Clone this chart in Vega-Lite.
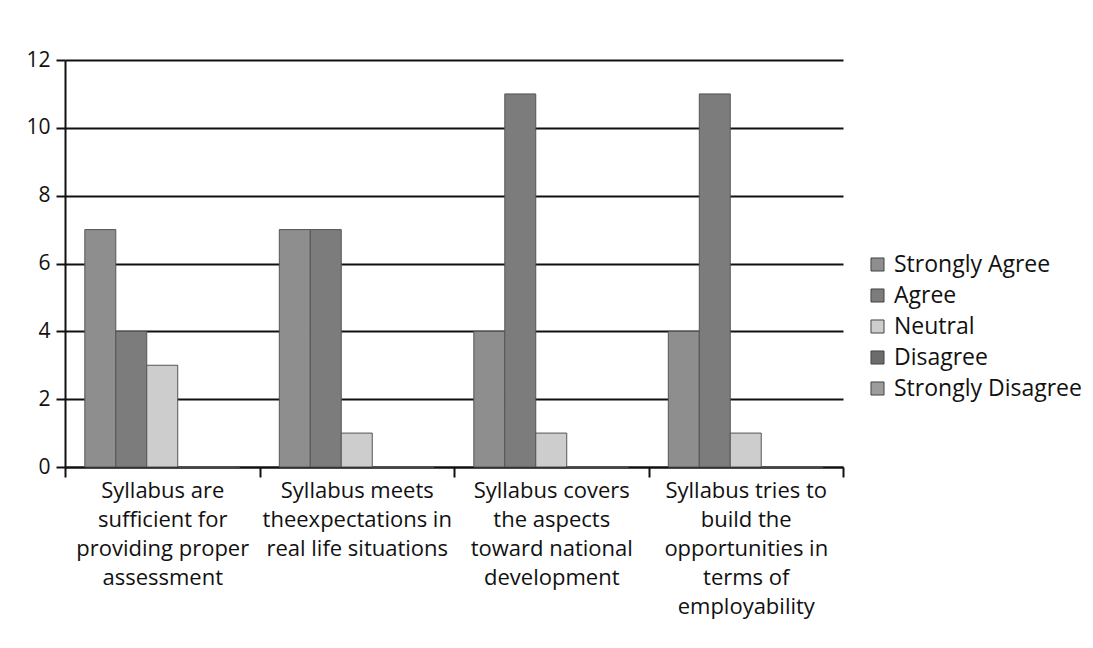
{
  "$schema": "https://vega.github.io/schema/vega-lite/v6.json",
  "width": 778,
  "height": 407,
  "autosize": {"type": "none"},
  "padding": {"left": 65, "top": 60, "right": 250, "bottom": 181},
  "background": "white",
  "config": {"view": {"stroke": null}, "font": "Open Sans"},
  "data": {
    "values": [
      {"question": "Syllabus are|sufficient for|providing proper|assessment", "response": "Strongly Agree", "count": 7},
      {"question": "Syllabus are|sufficient for|providing proper|assessment", "response": "Agree", "count": 4},
      {"question": "Syllabus are|sufficient for|providing proper|assessment", "response": "Neutral", "count": 3},
      {"question": "Syllabus are|sufficient for|providing proper|assessment", "response": "Disagree", "count": 0},
      {"question": "Syllabus are|sufficient for|providing proper|assessment", "response": "Strongly Disagree", "count": 0},
      {"question": "Syllabus meets|theexpectations in|real life situations", "response": "Strongly Agree", "count": 7},
      {"question": "Syllabus meets|theexpectations in|real life situations", "response": "Agree", "count": 7},
      {"question": "Syllabus meets|theexpectations in|real life situations", "response": "Neutral", "count": 1},
      {"question": "Syllabus meets|theexpectations in|real life situations", "response": "Disagree", "count": 0},
      {"question": "Syllabus meets|theexpectations in|real life situations", "response": "Strongly Disagree", "count": 0},
      {"question": "Syllabus covers|the aspects|toward national|development", "response": "Strongly Agree", "count": 4},
      {"question": "Syllabus covers|the aspects|toward national|development", "response": "Agree", "count": 11},
      {"question": "Syllabus covers|the aspects|toward national|development", "response": "Neutral", "count": 1},
      {"question": "Syllabus covers|the aspects|toward national|development", "response": "Disagree", "count": 0},
      {"question": "Syllabus covers|the aspects|toward national|development", "response": "Strongly Disagree", "count": 0},
      {"question": "Syllabus tries to|build the|opportunities in|terms of|employability", "response": "Strongly Agree", "count": 4},
      {"question": "Syllabus tries to|build the|opportunities in|terms of|employability", "response": "Agree", "count": 11},
      {"question": "Syllabus tries to|build the|opportunities in|terms of|employability", "response": "Neutral", "count": 1},
      {"question": "Syllabus tries to|build the|opportunities in|terms of|employability", "response": "Disagree", "count": 0},
      {"question": "Syllabus tries to|build the|opportunities in|terms of|employability", "response": "Strongly Disagree", "count": 0}
    ]
  },
  "mark": {"type": "bar", "stroke": "#555555", "strokeWidth": 1},
  "encoding": {
    "x": {
      "field": "question",
      "type": "nominal",
      "sort": null,
      "scale": {"paddingInner": 0, "paddingOuter": 0},
      "axis": {
        "title": null,
        "labelAngle": 0,
        "labelExpr": "split(datum.label, '|')",
        "labelFontSize": 22,
        "labelColor": "#111111",
        "labelLineHeight": 29,
        "labelPadding": 3,
        "labelLimit": 0,
        "tickBand": "extent",
        "tickSize": 10,
        "tickWidth": 2,
        "tickColor": "#111111",
        "domainColor": "#111111",
        "domainWidth": 2
      }
    },
    "xOffset": {
      "field": "response",
      "type": "nominal",
      "sort": ["Strongly Agree", "Agree", "Neutral", "Disagree", "Strongly Disagree"],
      "scale": {"paddingInner": 0, "paddingOuter": 0.64}
    },
    "y": {
      "field": "count",
      "type": "quantitative",
      "scale": {"domain": [0, 12]},
      "axis": {
        "title": null,
        "values": [0, 2, 4, 6, 8, 10, 12],
        "labelFontSize": 21,
        "labelColor": "#111111",
        "labelPadding": 6,
        "tickSize": 9,
        "tickWidth": 2,
        "tickColor": "#111111",
        "domainColor": "#111111",
        "domainWidth": 2,
        "grid": true,
        "gridColor": "#111111",
        "gridWidth": 2
      }
    },
    "color": {
      "field": "response",
      "type": "nominal",
      "sort": ["Strongly Agree", "Agree", "Neutral", "Disagree", "Strongly Disagree"],
      "scale": {
        "domain": ["Strongly Agree", "Agree", "Neutral", "Disagree", "Strongly Disagree"],
        "range": ["#8e8e8e", "#7c7c7c", "#cdcdcd", "#6c6c6c", "#9c9c9c"]
      },
      "legend": {
        "title": null,
        "orient": "none",
        "legendX": 801,
        "legendY": 193,
        "symbolType": "square",
        "symbolSize": 170,
        "symbolStrokeColor": "#444444",
        "symbolStrokeWidth": 1,
        "labelFontSize": 23,
        "labelColor": "#111111",
        "labelOffset": 5,
        "rowPadding": 7,
        "labelLimit": 0
      }
    }
  }
}
